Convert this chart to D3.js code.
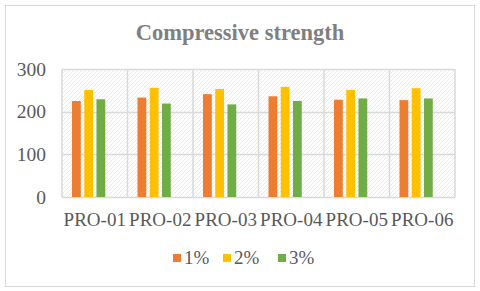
<!DOCTYPE html>
<html>
<head>
<meta charset="utf-8">
<script src="https://cdn.jsdelivr.net/npm/d3@7"></script>
<style>
  body { margin: 0; background: #fff; }
  svg text { font-family: "Liberation Serif", "Times New Roman", serif; }
</style>
</head>
<body>
<svg id="chart" width="480" height="291"></svg>
<script>
const categories = ['PRO-01', 'PRO-02', 'PRO-03', 'PRO-04', 'PRO-05', 'PRO-06']
const seriesNames = ['1%', '2%', '3%']
const s1 = [225, 233, 241, 236, 228, 227]
const s2 = [251, 256, 253, 258, 251, 255]
const s3 = [229, 219, 217, 225, 231, 231]
const yTicks = [0, 100, 200, 300]
const colors = ['#ED7D31', '#FFC000', '#70AD47']

const series = [s1, s2, s3]
const svg = d3.select('#chart')

// 外框
svg.append('rect')
  .attr('x', 5.5).attr('y', 5.5)
  .attr('width', 469).attr('height', 281)
  .attr('fill', '#fff').attr('stroke', '#d9d9d9')

// 斜线底纹
const defs = svg.append('defs')
const pat = defs.append('pattern')
  .attr('id', 'hatch')
  .attr('patternUnits', 'userSpaceOnUse')
  .attr('width', 4).attr('height', 4)
pat.append('rect').attr('width', 4).attr('height', 4).attr('fill', '#fff')
pat.append('path')
  .attr('d', 'M-1,1 l2,-2 M0,4 l4,-4 M3,5 l2,-2')
  .attr('stroke', '#ebebeb').attr('stroke-width', 1)

const plotLeft = 62
const plotRight = 455
const plotTop = 69
const plotBottom = 197

const x0 = d3.scaleBand().domain(categories).range([plotLeft, plotRight])
// excel 留了第4个空位
const x1 = d3.scaleBand().domain(d3.range(4))
  .range([10, x0.bandwidth() - 10]).paddingInner(0.28)
const y = d3.scaleLinear().domain([0, 300]).range([plotBottom, plotTop])

svg.append('rect')
  .attr('x', plotLeft).attr('y', plotTop)
  .attr('width', plotRight - plotLeft).attr('height', plotBottom - plotTop)
  .attr('fill', 'url(#hatch)')

// 网格
svg.append('g').selectAll('line')
  .data(yTicks)
  .join('line')
  .attr('x1', plotLeft).attr('x2', plotRight)
  .attr('y1', d => Math.round(y(d)) + 0.5).attr('y2', d => Math.round(y(d)) + 0.5)
  .attr('stroke', '#d9d9d9').attr('stroke-width', 1.5)

svg.append('g').selectAll('line')
  .data(categories.concat(['end']))
  .join('line')
  .attr('x1', (d, i) => plotLeft + i * x0.step()).attr('x2', (d, i) => plotLeft + i * x0.step())
  .attr('y1', plotTop).attr('y2', plotBottom)
  .attr('stroke', '#d9d9d9').attr('stroke-width', 1.5)

// 柱子
series.forEach((vals, si) => {
  svg.append('g').selectAll('rect')
    .data(vals)
    .join('rect')
    .attr('x', (d, i) => x0(categories[i]) + x1(si))
    .attr('width', x1.bandwidth())
    .attr('y', d => y(d))
    .attr('height', d => y(0) - y(d))
    .attr('fill', colors[si])
})

// y 轴
const yAxis = svg.append('g')
  .attr('transform', `translate(${plotLeft - 16},0)`)
  .call(d3.axisLeft(y).tickValues(yTicks).tickSize(0).tickPadding(0))
yAxis.select('.domain').remove()
yAxis.selectAll('text')
  .style('font-size', '19.5px').attr('fill', '#595959')

// x 轴
const xAxis = svg.append('g')
  .attr('transform', `translate(0,${plotBottom})`)
  .call(d3.axisBottom(x0).tickSize(0).tickPadding(16))
xAxis.select('.domain').remove()
xAxis.selectAll('text')
  .style('font-size', '19px').attr('fill', '#595959')

// 标题
svg.append('text')
  .attr('x', 240).attr('y', 40)
  .attr('text-anchor', 'middle')
  .style('font-size', '22.5px').attr('font-weight', 'bold')
  .attr('fill', '#7f7f7f')
  .text('Compressive strength')

// 图例
const legendX = [173, 223, 278]
const lg = svg.append('g').selectAll('g')
  .data(seriesNames)
  .join('g')
  .attr('transform', (d, i) => `translate(${legendX[i]},254)`)
lg.append('rect').attr('width', 8).attr('height', 8).attr('fill', (d, i) => colors[i])
lg.append('text')
  .attr('x', 11).attr('y', 10)
  .style('font-size', '19px').attr('fill', '#595959')
  .text(d => d)
</script>
</body>
</html>
